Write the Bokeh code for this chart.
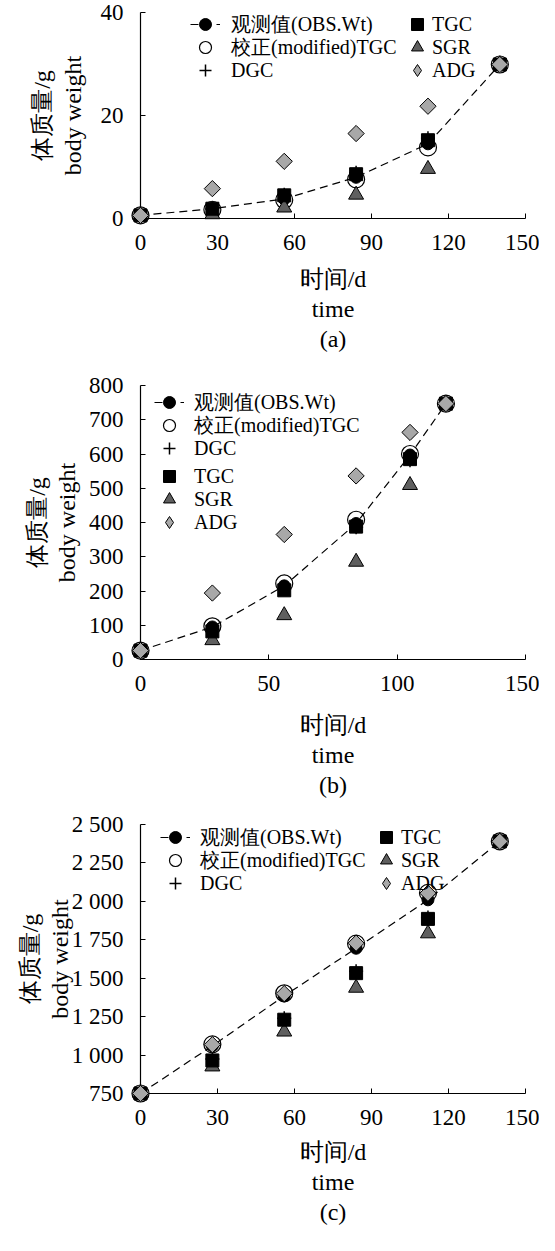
from bokeh.plotting import figure
from bokeh.layouts import column
from bokeh.models import Legend, LegendItem, FixedTicker, Range1d
from bokeh.embed import file_html
from bokeh.resources import INLINE

FONT = "Liberation Serif"

# ---------------- data ----------------
# panel (a)
days_a = [0, 28, 56, 84, 112, 140]
obs_a = [0.6, 1.9, 3.8, 8.0, 14.5, 29.9]
mod_a = [0.6, 1.7, 3.6, 7.6, 13.8, 29.9]
dgc_a = [0.6, 2.0, 4.6, 8.9, 15.6, 29.9]
tgc_a = [0.6, 1.9, 4.5, 8.6, 15.2, 29.9]
sgr_a = [0.6, 0.8, 2.1, 4.6, 9.6, 29.9]
adg_a = [0.6, 5.8, 11.1, 16.5, 21.8, 29.9]
xticks_a = [0, 30, 60, 90, 120, 150]
yticks_a = [0, 20, 40]

# panel (b)
days_b = [0, 28, 56, 84, 105, 119]
obs_b = [26, 95, 215, 397, 597, 747]
mod_b = [26, 97, 222, 408, 600, 747]
dgc_b = [26, 88, 206, 386, 582, 747]
tgc_b = [26, 82, 202, 388, 585, 747]
sgr_b = [26, 56, 129, 285, 509, 747]
adg_b = [26, 194, 365, 536, 663, 747]
xticks_b = [0, 50, 100, 150]
yticks_b = [0, 100, 200, 300, 400, 500, 600, 700, 800]

# panel (c)
days_c = [0, 28, 56, 84, 112, 140]
obs_c = [750, 1060, 1385, 1695, 2010, 2390]
mod_c = [750, 1070, 1402, 1725, 2055, 2390]
dgc_c = [750, 975, 1240, 1545, 1895, 2390]
tgc_c = [750, 965, 1230, 1533, 1886, 2390]
sgr_c = [750, 925, 1152, 1437, 1791, 2390]
adg_c = [750, 1068, 1400, 1728, 2053, 2390]
xticks_c = [0, 30, 60, 90, 120, 150]
yticks_c = [750, 1000, 1250, 1500, 1750, 2000, 2250, 2500]
ylabels_c = ["750", "1 000", "1 250", "1 500", "1 750", "2 000", "2 250", "2 500"]

names = ["观测值(OBS.Wt)", "校正(modified)TGC", "DGC", "TGC", "SGR", "ADG"]
x_title = "时间/d\ntime\n"
y_title = "体质量/g\nbody weight"

ROW = 23  # legend row pitch (px)


def panel(days, obs, mod, dgc, tgc, sgr, adg, xticks, yticks, yr, letter,
          frame_h, top, bottom, xlab_standoff, ylab_standoff, legend_cols, ylabels=None):
    p = figure(output_backend="svg", toolbar_location=None,
               frame_width=385, frame_height=frame_h,
               min_border_left=140, min_border_right=14,
               min_border_top=top, min_border_bottom=bottom,
               x_range=Range1d(0, 150), y_range=Range1d(*yr),
               background_fill_color="white", border_fill_color="white")
    p.outline_line_color = None
    p.grid.visible = False

    for ax, ticks in ((p.xaxis[0], xticks), (p.yaxis[0], yticks)):
        ax.ticker = FixedTicker(ticks=ticks)
        ax.major_tick_in = 5
        ax.major_tick_out = 0
        ax.minor_tick_line_color = None
        ax.axis_line_color = "black"
        ax.axis_line_width = 1.2
        ax.major_tick_line_color = "black"
        ax.major_label_text_font = FONT
        ax.major_label_text_font_size = "23px"
        ax.major_label_text_color = "black"
        ax.axis_label_text_font = FONT
        ax.axis_label_text_font_size = "24px"
        ax.axis_label_text_font_style = "normal"
        ax.axis_label_text_color = "black"
        ax.axis_label_text_line_height = 1.16
    p.xaxis.major_label_standoff = 16
    p.yaxis.major_label_standoff = 17
    p.xaxis.axis_label = x_title + "(" + letter + ")"
    p.xaxis.axis_label_standoff = xlab_standoff
    p.yaxis.axis_label = y_title
    p.yaxis.axis_label_standoff = ylab_standoff
    if ylabels is not None:
        p.yaxis.major_label_overrides = {float(t): s for t, s in zip(yticks, ylabels)}

    r_line = p.line(days, obs, line_color="black", line_width=1.2, line_dash="8 5")
    r_obs = p.scatter(days, obs, marker="circle", size=12, fill_color="black", line_color="black")
    r_mod = p.scatter(days, mod, marker="circle", size=17, fill_color=None, line_color="black", line_width=1.2)
    r_dgc = p.scatter(days, dgc, marker="cross", size=14, line_color="black", line_width=1.5)
    r_sgr = p.scatter(days, sgr, marker="triangle", size=15, fill_color="#5f5f5f", line_color="black")
    r_tgc = p.scatter(days, tgc, marker="square", size=13, fill_color="black", line_color="black")
    r_adg = p.scatter(days, adg, marker="square", angle=0.785398, size=11.5,
                      fill_color="#a8a8a8", line_color="black")
    for r in (r_line, r_obs, r_mod, r_dgc, r_sgr, r_tgc, r_adg):
        r.level = "overlay"
    # hidden twin of the ADG series, used only for its diamond legend swatch
    r_adg_key = p.scatter(days, adg, marker="diamond", size=12,
                          fill_color="#a8a8a8", line_color="black", visible=False)

    rends = [[r_line, r_obs], [r_mod], [r_dgc], [r_tgc], [r_sgr], [r_adg_key]]

    # one legend per row so the row pitch matches the original
    for (idx, x0, y_first, standoff) in legend_cols:
        for k, i in enumerate(idx):
            lg = Legend(items=[LegendItem(label=names[i], renderers=rends[i])],
                        location=(x0, y_first - k * ROW),
                        orientation="vertical", click_policy="none",
                        label_text_font=FONT, label_text_font_size="20px",
                        label_text_color="black",
                        inactive_fill_alpha=0,
                        glyph_width=30, glyph_height=30, label_height=20,
                        label_standoff=standoff, spacing=0, padding=0, margin=0,
                        border_line_color=None, background_fill_alpha=0)
            p.add_layout(lg, "center")
    return p


pa = panel(days_a, obs_a, mod_a, dgc_a, tgc_a, sgr_a, adg_a, xticks_a, yticks_a,
           (0, 40), "a", 206, 12, 143, 13, 12,
           [([0, 1, 2], 50, 179, 11), ([3, 4, 5], 262, 179, -3)])
pb = panel(days_b, obs_b, mod_b, dgc_b, tgc_b, sgr_b, adg_b, xticks_b, yticks_b,
           (0, 800), "b", 274, 24, 145, 18, 6,
           [([0, 1, 2], 14, 242, 10), ([3, 4, 5], 14, 168, 10)])
pc = panel(days_c, obs_c, mod_c, dgc_c, tgc_c, sgr_c, adg_c, xticks_c, yticks_c,
           (750, 2500), "c", 269, 20, 141, 11, -4,
           [([0, 1, 2], 20, 241, 10), ([3, 4, 5], 231, 241, -3)], ylabels=ylabels_c)

layout = column(pa, pb, pc, spacing=0)
open("out.html", "w").write(file_html(layout, INLINE))
